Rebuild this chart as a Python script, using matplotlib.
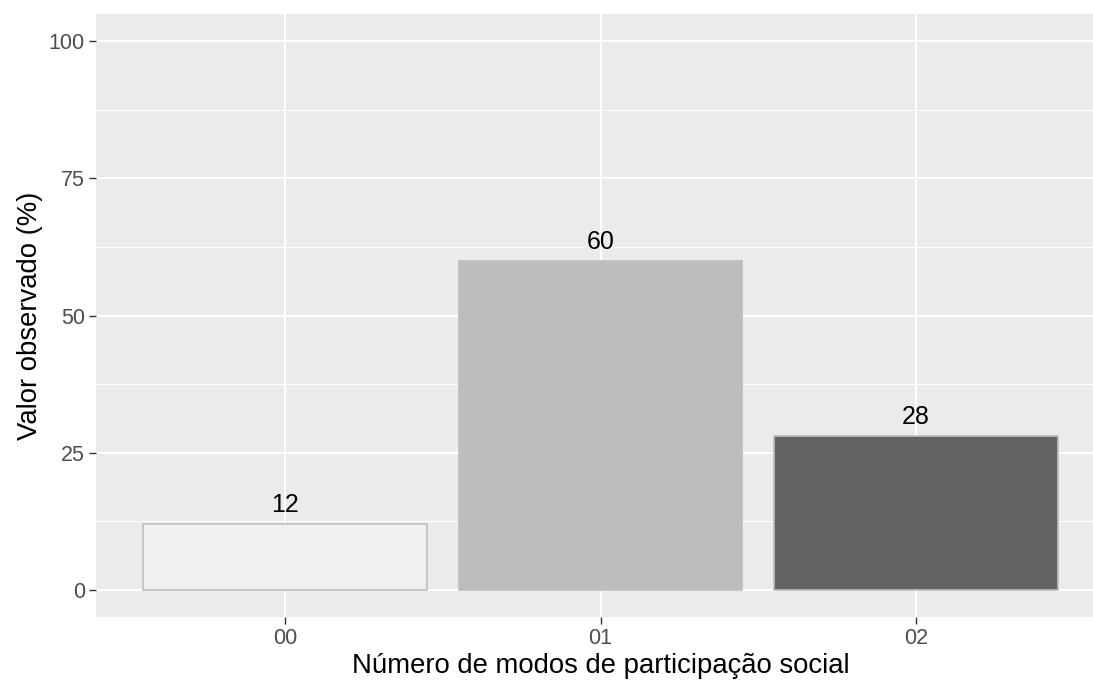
import matplotlib
matplotlib.use("Agg")
import matplotlib.pyplot as plt

categorias = ["00", "01", "02"]
valores = [12, 60, 28]
cores = ["#F0F0F0", "#BDBDBD", "#636363"]
yticks = [0, 25, 50, 75, 100]

plt.rcParams['font.family'] = ['Liberation Sans', 'DejaVu Sans']

fig = plt.figure(figsize=(10.93, 6.86), dpi=100)
W, H = 1093, 686
ax = fig.add_axes([96 / W, (H - 617) / H, (1105 - 96) / W, (617 - 14) / H])
ax.set_facecolor("#EBEBEB")

x = list(range(len(categorias)))
ax.bar(x, valores, width=0.9, color=cores, edgecolor="#BEBEBE", linewidth=1.2, zorder=3)
for xi, v in zip(x, valores):
    ax.text(xi, v + 1.3, str(v), ha="center", va="bottom", fontsize=18, color="black", zorder=4)

ax.set_xlim(-0.6, 2.6)
ax.set_ylim(-5, 105)
ax.set_xticks(x)
ax.set_xticklabels(categorias)
ax.set_yticks(yticks)
ax.set_yticks([12.5, 37.5, 62.5, 87.5], minor=True)
ax.grid(which="major", color="white", linewidth=1.5, zorder=0)
ax.grid(which="minor", axis="y", color="white", linewidth=0.8, zorder=0)
ax.set_axisbelow(True)
for s in ax.spines.values():
    s.set_visible(False)
ax.tick_params(which="major", length=5, width=1, color="#333333", labelsize=15.5,
               labelcolor="#4D4D4D", pad=3)
ax.tick_params(which="minor", length=0)

ax.set_xlabel("Número de modos de participação social", fontsize=19.8, labelpad=3)
ax.set_ylabel("Valor observado (%)", fontsize=19.8, labelpad=4)

fig.savefig("out.png", dpi=100)
